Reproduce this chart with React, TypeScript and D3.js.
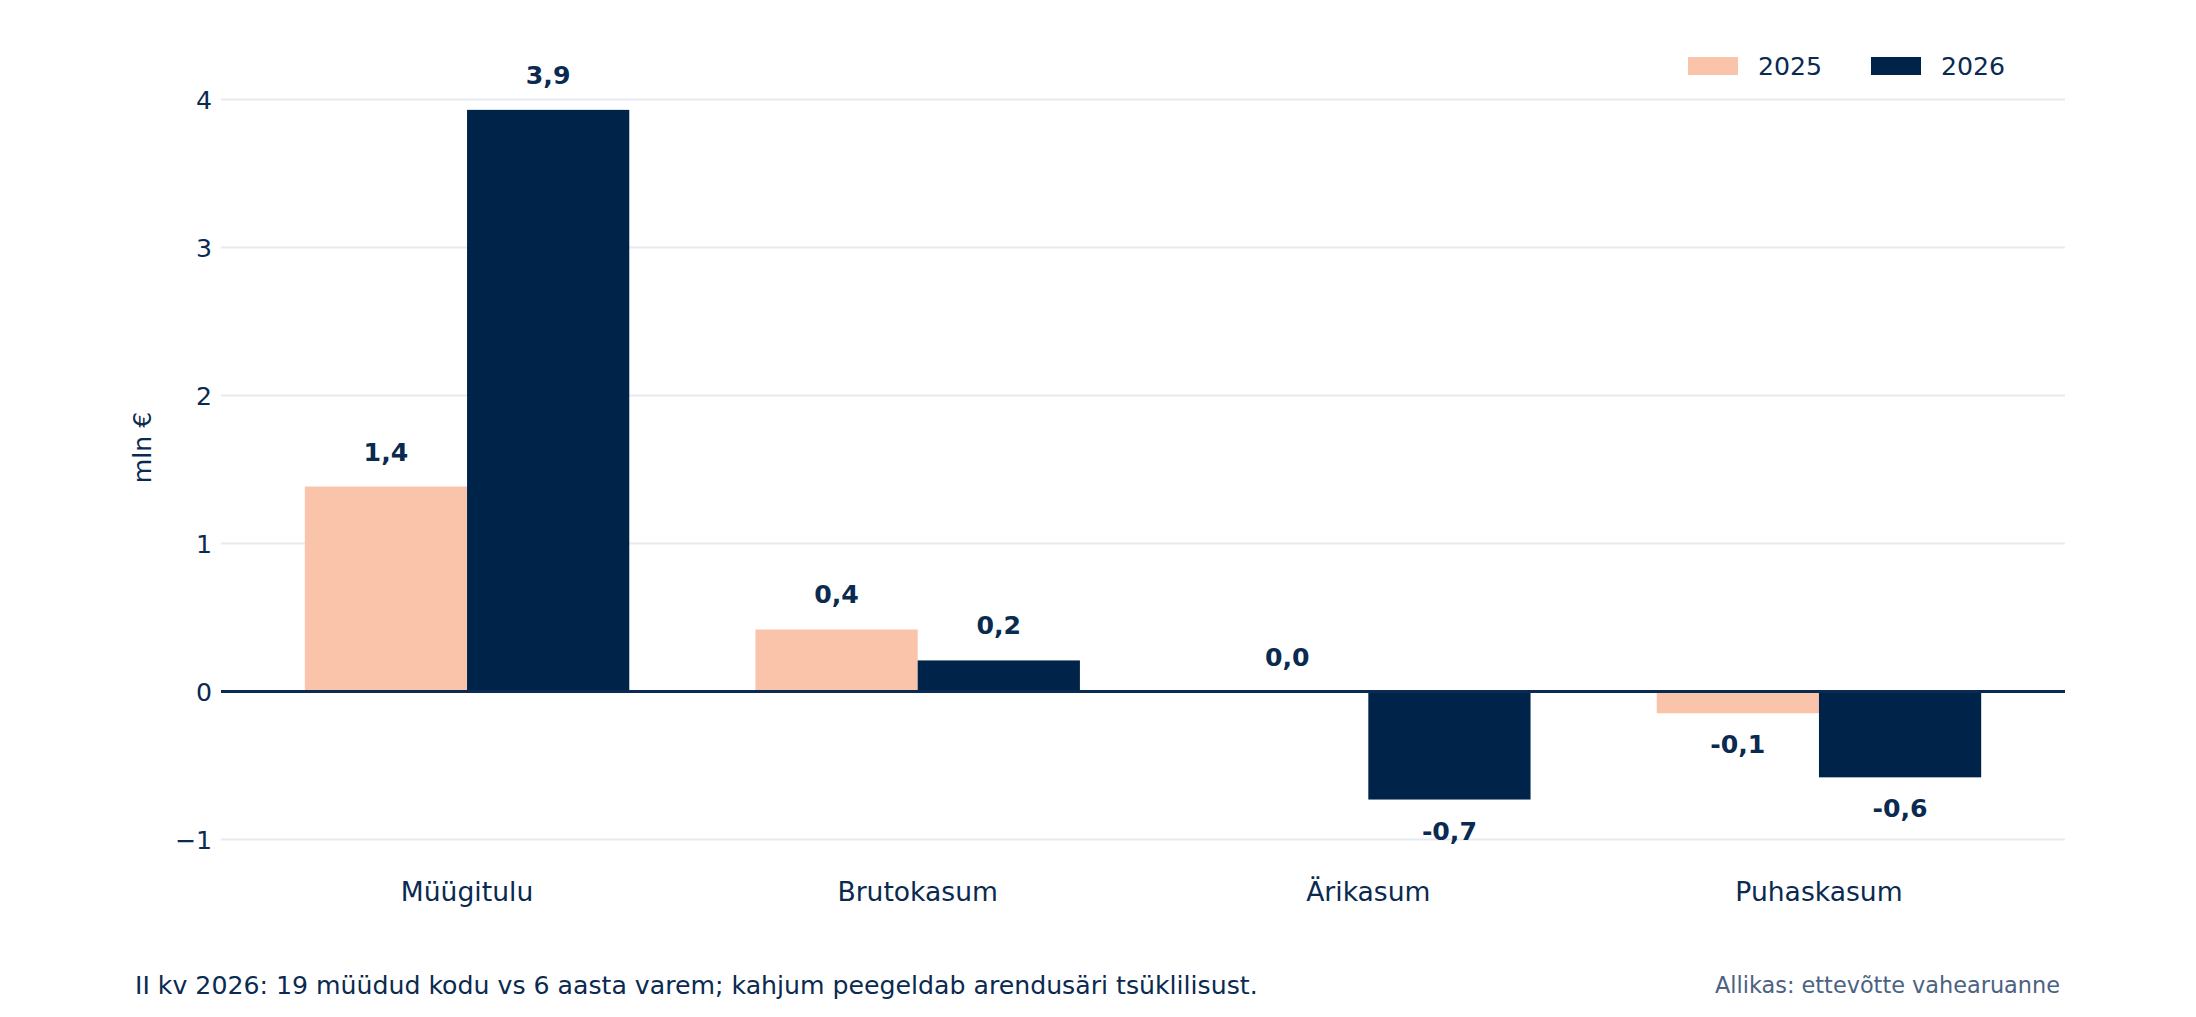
import React from "react";
import * as d3 from "d3";

const categories = ["Müügitulu", "Brutokasum", "Ärikasum", "Puhaskasum"];
const seriesNames = ["2025", "2026"];
const values2025 = [1.385, 0.419, 0.0, -0.147];
const values2026 = [3.93, 0.21, -0.73, -0.58];
const yTicks = [-1, 0, 1, 2, 3, 4];
const footnote = "II kv 2026: 19 müüdud kodu vs 6 aasta varem; kahjum peegeldab arendusäri tsüklilisust.";
const sourceText = "Allikas: ettevõtte vahearuanne";
const yTitle = "mln €";

const W = 2196;
const H = 1017;
const FONT = "'DejaVu Sans', sans-serif";
const TEXT = "#0a2a50";
const NAVY = "#002349";
const PEACH = "#fac4ab";
const GRID = "#e6eaef";
const SOURCE = "#4b6282";

const colors: Record<string, string> = { "2025": PEACH, "2026": NAVY };
const seriesValues: Record<string, number[]> = { "2025": values2025, "2026": values2026 };

if (typeof document !== "undefined") {
  document.body.style.margin = "0";
  document.body.style.overflow = "hidden";
}

const fmtLabel = (v: number) => v.toFixed(1).replace(".", ",");
const fmtTick = (v: number) => (v < 0 ? "\u2212" + Math.abs(v) : String(v));

export default function App() {
  const left = 221;
  const right = 2065;
  const x0 = d3.scaleBand<string>().domain(categories).range([left, right]).paddingInner(0.28).paddingOuter(0.186);
  const x1 = d3.scaleBand<string>().domain(seriesNames).range([0, x0.bandwidth()]).padding(0);
  const y = d3.scaleLinear().domain([-1.2, 4.3]).range([691.5 + 1.2 * 148, 691.5 - 4.3 * 148]);

  return (
    <svg width={W} height={H} style={{ display: "block", background: "#fff" }} fontFamily={FONT}>
      {yTicks.filter((t) => t !== 0).map((t) => (
        <line key={"g" + t} x1={left} x2={right} y1={y(t)} y2={y(t)} stroke={GRID} strokeWidth={2} />
      ))}
      {yTicks.map((t) => (
        <text key={"t" + t} x={212} y={y(t)} dy="0.36em" textAnchor="end" fontSize={25.2} fill={TEXT}>
          {fmtTick(t)}
        </text>
      ))}
      {seriesNames.map((s) =>
        categories.map((c, i) => {
          const v = seriesValues[s][i];
          const bx = (x0(c) ?? 0) + (x1(s) ?? 0);
          const y0 = y(0);
          const yv = y(v);
          return (
            <rect
              key={s + c}
              x={bx}
              y={Math.min(y0, yv)}
              width={x1.bandwidth()}
              height={Math.abs(yv - y0)}
              fill={colors[s]}
            />
          );
        })
      )}
      <line x1={left} x2={right} y1={y(0)} y2={y(0)} stroke={TEXT} strokeWidth={2.8} />
      {seriesNames.map((s) =>
        categories.map((c, i) => {
          const v = seriesValues[s][i];
          const cx = (x0(c) ?? 0) + (x1(s) ?? 0) + x1.bandwidth() / 2;
          const ty = v >= 0 ? y(v) - 26 : y(v) + 40;
          return (
            <text key={"l" + s + c} x={cx} y={ty} textAnchor="middle" fontSize={25.2} fontWeight="bold" fill={TEXT}>
              {fmtLabel(v)}
            </text>
          );
        })
      )}
      {categories.map((c) => (
        <text key={"c" + c} x={(x0(c) ?? 0) + x0.bandwidth() / 2} y={901} textAnchor="middle" fontSize={26.6} fill={TEXT}>
          {c}
        </text>
      ))}
      <text transform="translate(151,447.5) rotate(-90)" textAnchor="middle" fontSize={25.2} fill={TEXT}>
        {yTitle}
      </text>
      {seriesNames.map((s, i) => {
        const lx = 1688 + i * 183;
        return (
          <g key={"lg" + s}>
            <rect x={lx} y={57} width={50} height={18} fill={colors[s]} />
            <text x={lx + 70} y={75} fontSize={25.2} fill={TEXT}>
              {s}
            </text>
          </g>
        );
      })}
      <text x={135} y={994} fontSize={25.2} fill={TEXT}>
        {footnote}
      </text>
      <text x={2060} y={993} textAnchor="end" fontSize={22.4} fill={SOURCE}>
        {sourceText}
      </text>
    </svg>
  );
}
